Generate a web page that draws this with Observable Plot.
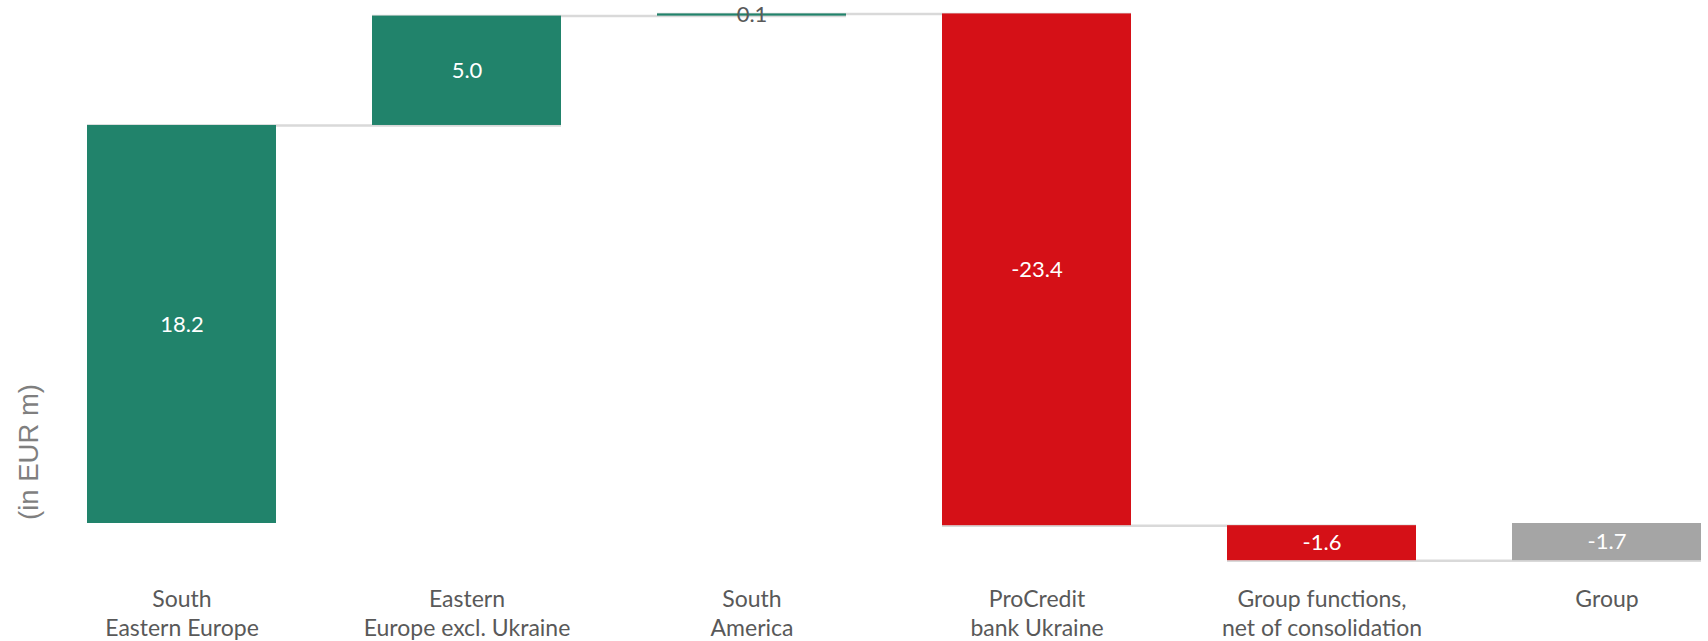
<!DOCTYPE html>
<html>
<head>
<meta charset="utf-8">
<script src="https://cdn.jsdelivr.net/npm/d3@7"></script>
<script src="https://cdn.jsdelivr.net/npm/@observablehq/plot@0.6"></script>
<style>
  html, body { margin: 0; padding: 0; background: #ffffff; }
  #chart { width: 1708px; height: 641px; }
</style>
</head>
<body>
<div id="chart"></div>
<script>
// Categories (x axis), with their two-line tick labels
const categories = [
  "South Eastern Europe",
  "Eastern Europe excl. Ukraine",
  "South America",
  "ProCredit bank Ukraine",
  "Group functions, net of consolidation",
  "Group"
];
const tickLabels = [
  "South\nEastern Europe",
  "Eastern\nEurope excl. Ukraine",
  "South\nAmerica",
  "ProCredit\nbank Ukraine",
  "Group functions,\nnet of consolidation",
  "Group"
];
// Contribution values (EUR m); the last one is the total
const values = [18.2, 5.0, 0.1, -23.4, -1.6, -1.7];
const isTotal = [false, false, false, false, false, true];
const yLabel = "(in EUR m)";

const GREEN = "#21836b", RED = "#d51017", GREY = "#a5a5a5";

// Build waterfall table
let run = 0;
const data = categories.map((cat, i) => {
  let start, end;
  if (isTotal[i]) { start = 0; end = values[i]; }
  else { start = run; end = run + values[i]; run = end; }
  return {
    cat, start, end, value: values[i],
    color: isTotal[i] ? GREY : (values[i] >= 0 ? GREEN : RED),
    labelColor: Math.abs(values[i]) < 0.5 ? "#595959" : "#ffffff"
  };
});
const connectors = data.slice(0, -1).map((d, i) => ({
  from: d.cat, to: data[i + 1].cat, level: d.end
}));
const labelOf = new Map(categories.map((c, i) => [c, tickLabels[i]]));

const chart = Plot.plot({
  width: 1708,
  height: 641,
  marginLeft: 86,
  marginRight: 6,
  marginTop: 0,
  marginBottom: 60,
  style: {fontFamily: "Lato, 'Open Sans', sans-serif", color: "#595959", background: "#ffffff"},
  x: {domain: categories, paddingInner: 0.336, paddingOuter: 0, align: 0.5},
  y: {domain: [-2.652, 23.914], axis: null},
  color: {type: "identity"},
  marks: [
    Plot.ruleY(connectors, {x1: "from", x2: "to", y: "level", stroke: "#d9d9d9", strokeWidth: 2.5}),
    Plot.barY(data, {x: "cat", y1: "start", y2: "end", fill: "color"}),
    Plot.text(data, {
      x: "cat", y: d => (d.start + d.end) / 2, text: d => d.value.toFixed(1),
      fill: "labelColor", fontSize: 22, textAnchor: "middle"
    }),
    Plot.axisX({
      tickSize: 0, tickPadding: 5, label: null, fontSize: 23, lineHeight: 1.27,
      tickFormat: d => labelOf.get(d)
    }),
    Plot.text([yLabel], {
      frameAnchor: "left", dx: -57, dy: 229, rotate: -90, text: d => d,
      fontSize: 27.5, fill: "#7f7f7f", fontFamily: "'Liberation Sans', Arial, sans-serif"
    })
  ]
});
document.getElementById("chart").appendChild(chart);
</script>
</body>
</html>
